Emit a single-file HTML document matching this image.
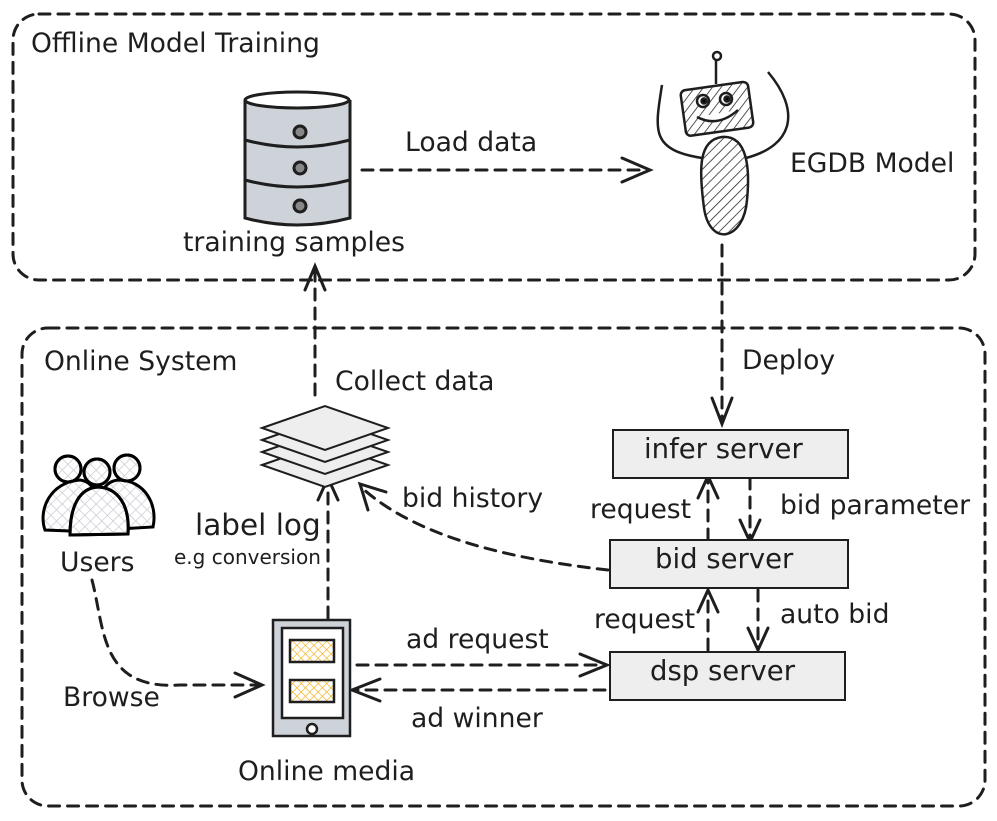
<!DOCTYPE html>
<html><head><style>body{margin:0;background:#fff}svg{display:block}text{font-family:"DejaVu Sans","Liberation Sans",sans-serif;fill:#1e1e1e}</style></head><body>
<svg width="997" height="821" viewBox="0 0 997 821" xmlns="http://www.w3.org/2000/svg">
<defs>
<pattern id="h" width="7" height="7" patternUnits="userSpaceOnUse" patternTransform="rotate(45)"><line x1="0" y1="0" x2="0" y2="7" stroke="#1e1e1e" stroke-width="1.5"/></pattern>
<pattern id="x" width="8" height="8" patternUnits="userSpaceOnUse" patternTransform="rotate(45)"><path d="M0 0V8M0 0H8" stroke="#c9ccd3" stroke-width="1.5"/></pattern>
<pattern id="y" width="6" height="6" patternUnits="userSpaceOnUse" patternTransform="rotate(45)"><path d="M0 0V6M0 0H6" stroke="#f0a800" stroke-width="1.2"/></pattern>
</defs>
<g fill="none" stroke="#1e1e1e" stroke-width="3" stroke-dasharray="11 8" stroke-linecap="round">
<rect x="13" y="14" width="962" height="266" rx="26"/>
<rect x="22" y="328" width="963" height="478" rx="26"/>
<path d="M362 170H645"/><path d="M722 245V420"/><path d="M315 395V270"/><path d="M328 618V482"/>
<path d="M708 540V480"/><path d="M750 478V538"/><path d="M708 650V592"/><path d="M758 590V648"/>
<path d="M357 665H603"/><path d="M605 690H355"/>
<path d="M608 570C520 560 420 540 362 488"/>
<path d="M92 580C105 630 100 690 180 685H258"/>
</g>
<g fill="none" stroke="#1e1e1e" stroke-width="3" stroke-linecap="round">
<path d="M622 158L650 170L622 182"/><path d="M712 398L722 424L732 398"/><path d="M305 290L315 266L325 290"/><path d="M318 500L328 478L338 500"/>
<path d="M698 498L708 476L718 498"/><path d="M740 520L750 542L760 520"/><path d="M698 612L708 590L718 612"/><path d="M748 628L758 650L768 628"/>
<path d="M580 654L607 665L580 676"/><path d="M380 679L352 690L380 701"/><path d="M368 510L360 484L386 492"/><path d="M235 673L262 685L235 697"/>
</g>
<g stroke="#1e1e1e" stroke-width="3">
<path d="M245 100V218Q297 232 350 218V100" fill="#ced2d9"/>
<ellipse cx="297" cy="100" rx="52" ry="8" fill="#fff"/>
<path d="M245 140Q297 154 350 140M245 180Q297 194 350 180" fill="none"/>
<circle cx="300" cy="132" r="6" fill="#888"/><circle cx="300" cy="168" r="6" fill="#888"/><circle cx="300" cy="206" r="6" fill="#888"/>
</g>
<g stroke="#1e1e1e" stroke-width="2.5">
<path d="M662 85C655 130 650 150 702 158M768 72C800 110 795 145 746 158" fill="none"/>
<line x1="716" y1="84" x2="716" y2="60"/><circle cx="717" cy="56" r="4" fill="#fff"/>
<rect x="683" y="86" width="68" height="46" rx="5" transform="rotate(-8 716 109)" fill="url(#h)"/>
<circle cx="703" cy="101" r="6" fill="#fff"/><circle cx="726" cy="99" r="6" fill="#fff"/>
<circle cx="704" cy="101" r="2.5" fill="#000"/><circle cx="727" cy="99" r="2.5" fill="#000"/>
<path d="M697 117Q718 128 738 110" fill="#fff"/>
<path d="M722 137C748 135 750 170 747 200C744 240 710 248 704 208C699 170 698 140 722 137Z" fill="url(#h)"/>
</g>
<g fill="#eee" stroke="#1e1e1e" stroke-width="2">
<rect x="613" y="430" width="235" height="48"/><rect x="610" y="540" width="238" height="48"/><rect x="610" y="652" width="235" height="48"/>
</g>
<g fill="#eee" stroke="#1e1e1e" stroke-width="2">
<path d="M262 465L325 443L388 465L325 487Z"/><path d="M262 452L325 430L388 452L325 474Z"/><path d="M262 440L325 418L388 440L325 462Z"/><path d="M262 428L325 406L388 428L325 450Z"/>
</g>
<g fill="url(#x)" stroke="#000" stroke-width="3">
<circle cx="68" cy="469" r="13" fill="#fff"/><circle cx="127" cy="468" r="13" fill="#fff"/>
<circle cx="68" cy="469" r="13"/><circle cx="127" cy="468" r="13"/>
<path d="M45 530C38 510 50 482 80 480C95 482 100 495 95 532Z"/><path d="M153 527C158 505 145 480 118 480C100 482 98 500 102 530Z"/>
<path d="M70 535C70 505 80 488 98 487C118 488 130 505 128 534Z" fill="#fff"/><path d="M70 535C70 505 80 488 98 487C118 488 130 505 128 534Z"/>
<circle cx="97" cy="472" r="13" fill="#fff"/><circle cx="97" cy="472" r="13"/>
</g>
<g stroke="#1e1e1e" stroke-width="2.5">
<rect x="273" y="620" width="77" height="116" fill="#ced2d9"/>
<rect x="282" y="628" width="61" height="90" fill="#fff"/>
<rect x="290" y="640" width="44" height="22" fill="url(#y)"/><rect x="290" y="680" width="44" height="22" fill="url(#y)"/>
<circle cx="312" cy="729" r="5" fill="#fff"/>
</g>
<g font-size="26.6">
<text x="31" y="52">Offline Model Training</text>
<text x="44" y="370">Online System</text>
<text x="405" y="151">Load data</text>
<text x="790" y="172">EGDB Model</text>
<text x="183" y="251" fill="#000">training samples</text>
<text x="742" y="369">Deploy</text>
<text x="335" y="390">Collect data</text>
<text x="644" y="458" font-size="27.5">infer server</text>
<text x="655" y="568" font-size="27.5">bid server</text>
<text x="650" y="680" font-size="27.5">dsp server</text>
<text x="590" y="518">request</text>
<text x="780" y="514">bid parameter</text>
<text x="594" y="628">request</text>
<text x="780" y="623">auto bid</text>
<text x="402" y="507">bid history</text>
<text x="406" y="648">ad request</text>
<text x="411" y="727">ad winner</text>
<text x="195" y="535" font-size="29.5">label log</text>
<text x="174" y="564" font-size="20">e.g conversion</text>
<text x="60" y="571" fill="#000">Users</text>
<text x="63" y="706">Browse</text>
<text x="238" y="780">Online media</text>
</g>
</svg>
</body></html>
